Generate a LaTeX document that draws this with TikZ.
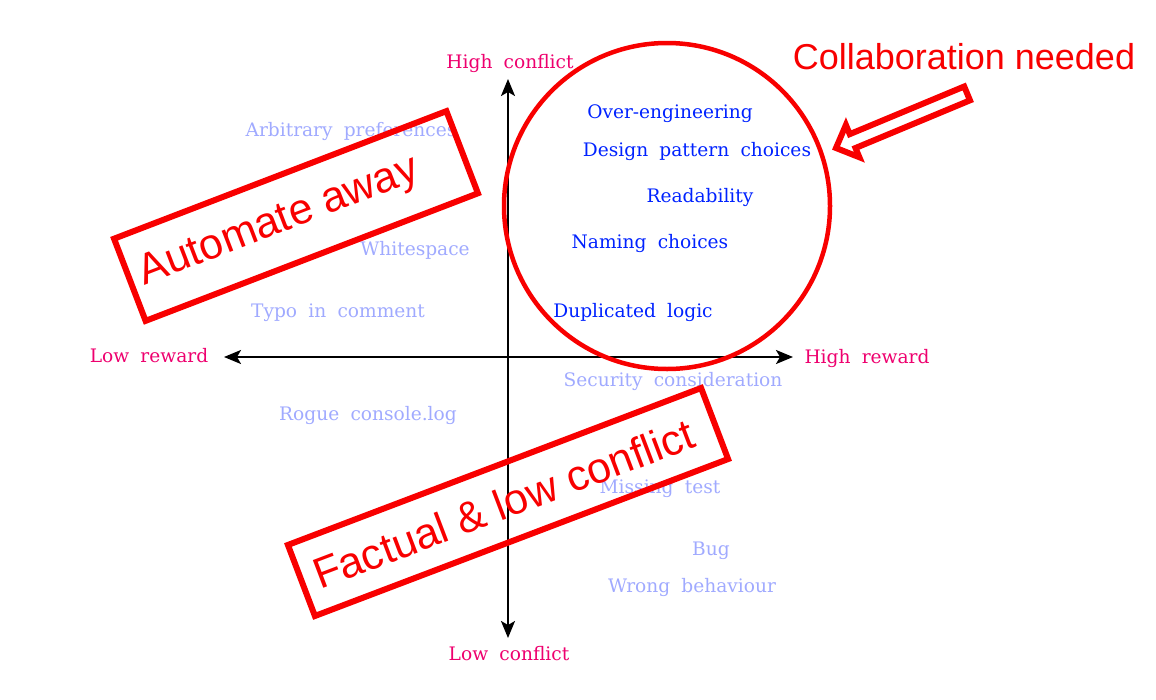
\documentclass[tikz,border=0pt]{standalone}
\usepackage{fontspec}
\setmainfont[WordSpace=1.9]{DejaVu Serif}
\newfontfamily\bannerfont{Liberation Sans}
\usetikzlibrary{arrows.meta}

\definecolor{axispink}{RGB}{238,0,110}
\definecolor{hotblue}{RGB}{0,34,255}
\definecolor{coldblue}{RGB}{160,170,255}
\definecolor{bannerred}{RGB}{248,0,0}

\begin{document}
\begin{tikzpicture}[x=1pt,y=-1pt,
    lbl/.style={font=\fontsize{18.6}{20}\selectfont,inner sep=0pt},
    axislbl/.style={lbl,text=axispink},
    hot/.style={lbl,text=hotblue},
    cold/.style={lbl,text=coldblue},
    axisarrow/.style={line width=2pt,{Stealth[length=17pt,width=14pt,inset=4pt]}-{Stealth[length=17pt,width=14pt,inset=4pt]}},
    banner/.style={draw=bannerred,line width=6pt,text=bannerred,inner sep=0pt,
      font=\bannerfont\fontsize{43}{48}\selectfont}]
  \useasboundingbox (0,0) rectangle (1156,699);

  % axes
  \coordinate (top) at (508,79);
  \coordinate (bottom) at (508,638);
  \coordinate (left) at (224,357);
  \coordinate (right) at (793,357);
  \draw[axisarrow] (bottom) -- (top);
  \draw[axisarrow] (left) -- (right);

  \node[axislbl] (highconflict) at (510,63) {High conflict};
  \node[axislbl] (lowconflict) at (509,654) {Low conflict};
  \node[axislbl] (lowreward) at (149,356) {Low reward};
  \node[axislbl] (highreward) at (867,358) {High reward};

  % items
  \node[hot] (overeng) at (670,114) {Over-engineering};
  \node[hot] (design) at (697,151) {Design pattern choices};
  \node[hot] (readab) at (700,197) {Readability};
  \node[hot] (naming) at (650,243) {Naming choices};
  \node[hot] (duplic) at (633,312) {Duplicated logic};

  \node[cold] (arbitr) at (351,131) {Arbitrary preferences};
  \node[cold] (whitesp) at (415,250) {Whitespace};
  \node[cold] (typo) at (338,313) {Typo in comment};
  \node[cold] (rogue) at (368,415) {Rogue console.log};
  \node[cold] (security) at (673,381) {Security consideration};
  \node[cold] (missing) at (660,489) {Missing test};
  \node[cold] (bug) at (711,551) {Bug};
  \node[cold] (wrong) at (692,587) {Wrong behaviour};

  % annotations
  \draw[bannerred,line width=4.5pt] (667,206) circle (163);

  \node[banner,rotate=21,minimum width=356pt,minimum height=88pt] (automate)
    at (296,216) {Automate away\hspace*{36pt}};
  \node[banner,rotate=20.8,minimum width=442pt,minimum height=76pt] (factual)
    at (508,502) {Factual \& low conflict\hspace*{10pt}};

  \node[text=bannerred,inner sep=0pt,font=\bannerfont\fontsize{36}{40}\selectfont]
    (collab) at (964,57) {Collaboration needed};

  \begin{scope}[shift={(836,148)},rotate=22.6]
    \draw[bannerred,line width=6pt,line join=miter]
      (0,0) -- (18,17.5) -- (18,7.5) -- (142,7.5) -- (142,-7.5) -- (18,-7.5) -- (18,-17.5) -- cycle;
  \end{scope}
\end{tikzpicture}
\end{document}
